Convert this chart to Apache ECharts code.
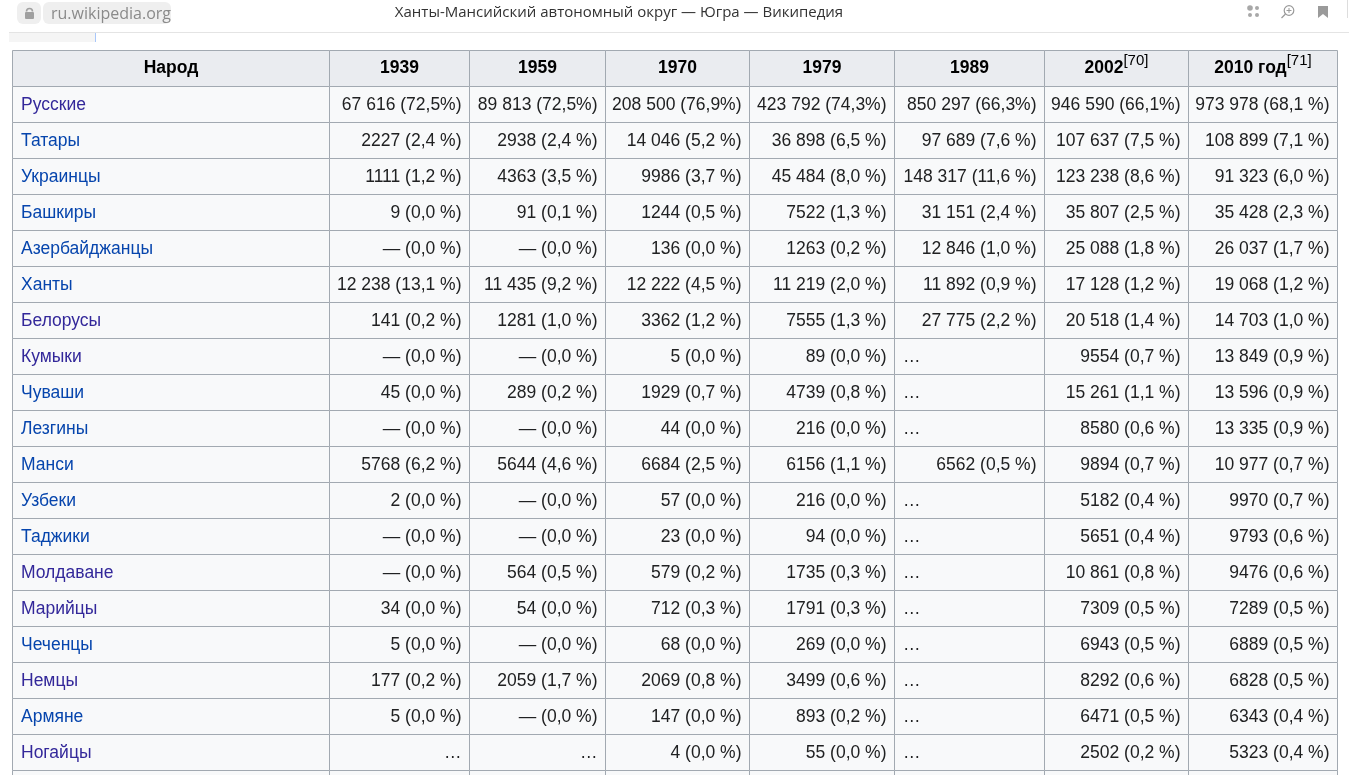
<!DOCTYPE html>
<html>
<head>
<meta charset="utf-8">
<title>Ханты-Мансийский автономный округ — Югра — Википедия</title>
<script src="https://cdn.jsdelivr.net/npm/echarts@6/dist/echarts.min.js"></script>
<style>
    html, body { margin: 0; padding: 0; background: #fff; }
    #peoples { width: 1349px; height: 775px; }
</style>
</head>
<body>
<div id="peoples"></div>
<script>
// национальный состав по переписям
const years = ['1939', '1959', '1970', '1979', '1989', '2002', '2010 год'];
const refs = ['', '', '', '', '', '[70]', '[71]'];
const peoples = ['Русские', 'Татары', 'Украинцы', 'Башкиры', 'Азербайджанцы', 'Ханты', 'Белорусы',
    'Кумыки', 'Чуваши', 'Лезгины', 'Манси', 'Узбеки', 'Таджики', 'Молдаване', 'Марийцы',
    'Чеченцы', 'Немцы', 'Армяне', 'Ногайцы'];

// 0 = «—», null = «…»
const pop1939 = [67616, 2227, 1111, 9, 0, 12238, 141, 0, 45, 0, 5768, 2, 0, 0, 34, 5, 177, 5, null];
const pop1959 = [89813, 2938, 4363, 91, 0, 11435, 1281, 0, 289, 0, 5644, 0, 0, 564, 54, 0, 2059, 0, null];
const pop1970 = [208500, 14046, 9986, 1244, 136, 12222, 3362, 5, 1929, 44, 6684, 57, 23, 579, 712, 68, 2069, 147, 4];
const pop1979 = [423792, 36898, 45484, 7522, 1263, 11219, 7555, 89, 4739, 216, 6156, 216, 94, 1735, 1791, 269, 3499, 893, 55];
const pop1989 = [850297, 97689, 148317, 31151, 12846, 11892, 27775, null, null, null, 6562, null, null, null, null, null, null, null, null];
const pop2002 = [946590, 107637, 123238, 35807, 25088, 17128, 20518, 9554, 15261, 8580, 9894, 5182, 5651, 10861, 7309, 6943, 8292, 6471, 2502];
const pop2010 = [973978, 108899, 91323, 35428, 26037, 19068, 14703, 13849, 13596, 13335, 10977, 9970, 9793, 9476, 7289, 6889, 6828, 6343, 5323];

const share1939 = [72.5, 2.4, 1.2, 0.0, 0.0, 13.1, 0.2, 0.0, 0.0, 0.0, 6.2, 0.0, 0.0, 0.0, 0.0, 0.0, 0.2, 0.0, null];
const share1959 = [72.5, 2.4, 3.5, 0.1, 0.0, 9.2, 1.0, 0.0, 0.2, 0.0, 4.6, 0.0, 0.0, 0.5, 0.0, 0.0, 1.7, 0.0, null];
const share1970 = [76.9, 5.2, 3.7, 0.5, 0.0, 4.5, 1.2, 0.0, 0.7, 0.0, 2.5, 0.0, 0.0, 0.2, 0.3, 0.0, 0.8, 0.0, 0.0];
const share1979 = [74.3, 6.5, 8.0, 1.3, 0.2, 2.0, 1.3, 0.0, 0.8, 0.0, 1.1, 0.0, 0.0, 0.3, 0.3, 0.0, 0.6, 0.2, 0.0];
const share1989 = [66.3, 7.6, 11.6, 2.4, 1.0, 0.9, 2.2, null, null, null, 0.5, null, null, null, null, null, null, null, null];
const share2002 = [66.1, 7.5, 8.6, 2.5, 1.8, 1.2, 1.4, 0.7, 1.1, 0.6, 0.7, 0.4, 0.4, 0.8, 0.5, 0.5, 0.6, 0.5, 0.2];
const share2010 = [68.1, 7.1, 6.0, 2.3, 1.7, 1.2, 1.0, 0.9, 0.9, 0.9, 0.7, 0.7, 0.6, 0.6, 0.5, 0.5, 0.5, 0.4, 0.4];

const counts = [pop1939, pop1959, pop1970, pop1979, pop1989, pop2002, pop2010];
const shares = [share1939, share1959, share1970, share1979, share1989, share2002, share2010];

// оформление
const colEdges = [0, 317.5, 457.5, 593, 737.5, 882.5, 1032, 1176.5, 1325];
const visited = ['Русские', 'Белорусы', 'Кумыки', 'Молдаване', 'Марийцы', 'Немцы', 'Ногайцы'];
const tightPct = { '0:0': 1, '0:1': 1, '0:2': 1, '0:3': 1, '0:4': 1, '0:5': 1 };
const FONT = '"Liberation Sans", Arial, sans-serif';
const ROW_H = 36;

function fmtCount(n) {
    if (n === 0) return '—';
    const s = String(n);
    if (n < 10000) return s;
    return s.replace(/\B(?=(\d{3})+(?!\d))/g, '\u00a0');
}

function fmtCell(row, col) {
    const n = counts[col][row];
    if (n === null) return null;
    const p = shares[col][row].toFixed(1).replace('.', ',');
    const pct = tightPct[row + ':' + col] ? p + '%' : p + '\u00a0%';
    return fmtCount(n) + ' (' + pct + ')';
}

const rowLabels = ['Народ'].concat(peoples);
const cells = [];
const cellData = [];
for (let r = 0; r < rowLabels.length; r++) {
    for (let c = 0; c < colEdges.length - 1; c++) {
        let cell = { text: '', align: 'right', fill: '#f8f9fa', color: '#202122' };
        if (r === 0) {
            cell.fill = '#eaecf0';
            cell.align = 'center';
            cell.header = true;
            cell.text = c === 0 ? 'Народ' : years[c - 1];
            cell.ref = c === 0 ? '' : refs[c - 1];
        } else if (c === 0) {
            cell.text = peoples[r - 1];
            cell.align = 'left';
            cell.color = visited.indexOf(peoples[r - 1]) >= 0 ? '#33289a' : '#0645ad';
        } else {
            const t = fmtCell(r - 1, c - 1);
            if (t === null) {
                cell.text = '…';
                cell.align = c === 5 ? 'left' : 'right';
            } else {
                cell.text = t;
            }
        }
        cell.last = r === rowLabels.length - 1;
        cells.push(cell);
        cellData.push([colEdges[c], r, c]);
    }
}

function renderCell(params, api) {
    const c = api.value(2);
    const r = api.value(1);
    const left = api.coord([colEdges[c], r]);
    const right = api.coord([colEdges[c + 1], r]);
    const h = api.size([0, 1])[1];
    const x0 = Math.floor(left[0]) + 0.5;
    const x1 = Math.floor(right[0]) + 0.5;
    const y0 = Math.round(left[1] - h / 2) + 0.5;
    const cy = y0 + h / 2;
    const cell = cells[params.dataIndex];

    const children = [{
        type: 'rect',
        shape: { x: x0, y: y0, width: x1 - x0, height: h },
        style: { fill: cell.fill, stroke: '#a2a9b1', lineWidth: 1 }
    }];
    // следующая строка таблицы, обрезанная краем окна
    if (cell.last) {
        children.push({
            type: 'rect',
            shape: { x: x0, y: y0 + h, width: x1 - x0, height: h },
            style: { fill: '#f8f9fa', stroke: '#a2a9b1', lineWidth: 1 }
        });
    }

    let tx = x1 - 8;
    if (cell.align === 'left') tx = x0 + 8.5;
    if (cell.align === 'center') tx = (x0 + x1) / 2;

    if (cell.header) {
        children.push({
            type: 'text',
            style: {
                text: '{h|' + cell.text + '}' + (cell.ref ? '{s|' + cell.ref + '}' : ''),
                x: tx, y: cy, align: 'center', verticalAlign: 'middle',
                rich: {
                    h: { fontFamily: FONT, fontSize: 17.5, fontWeight: 'bold', color: '#202122', lineHeight: 30 },
                    s: { fontFamily: FONT, fontSize: 15, color: '#0645ad', lineHeight: 16, verticalAlign: 'top' }
                }
            }
        });
    } else if (cell.text) {
        children.push({
            type: 'text',
            style: {
                text: cell.text, x: tx, y: cy + 0.5,
                align: cell.align, verticalAlign: 'middle',
                font: '17.5px ' + FONT, fill: cell.color
            }
        });
    }
    return { type: 'group', children: children };
}

// рамка браузера
const chrome = [
    { type: 'rect', shape: { x: 17, y: 2, width: 24, height: 22, r: 6 }, style: { fill: '#efefef' } },
    { type: 'rect', shape: { x: 25, y: 12, width: 9, height: 7, r: 1 }, style: { fill: '#a0a0a0' } },
    { type: 'arc', shape: { cx: 29.5, cy: 11.5, r: 3, startAngle: Math.PI, endAngle: 0 }, style: { stroke: '#a0a0a0', lineWidth: 1.6, fill: null } },
    { type: 'rect', shape: { x: 43, y: 2, width: 128, height: 22, r: 6 }, style: { fill: '#efefef' } },
    { type: 'text', style: { text: 'ru.wikipedia.org', x: 51, y: 14, verticalAlign: 'middle', font: '16px "Open Sans", "Noto Sans", sans-serif', fill: '#8a8a8a' } },
    { type: 'text', style: { text: 'Ханты-Мансийский автономный округ — Югра — Википедия', x: 619, y: 13, align: 'center', verticalAlign: 'middle', font: '15px "Open Sans", "Noto Sans", sans-serif', fill: '#333' } },
    { type: 'line', shape: { x1: 9, y1: 32.5, x2: 1349, y2: 32.5 }, style: { stroke: '#e4e4e4', lineWidth: 1 } },
    { type: 'rect', shape: { x: 9, y: 33, width: 86, height: 9 }, style: { fill: '#f5f5f5' } },
    { type: 'line', shape: { x1: 95.5, y1: 33, x2: 95.5, y2: 42 }, style: { stroke: '#a8c7fa', lineWidth: 1 } },
    { type: 'line', shape: { x1: 1347.5, y1: 0, x2: 1347.5, y2: 18 }, style: { stroke: '#dddddd', lineWidth: 1 } },
    { type: 'circle', shape: { cx: 1250, cy: 8, r: 2.8 }, style: { fill: '#a8a8a8' } },
    { type: 'circle', shape: { cx: 1257, cy: 8, r: 2 }, style: { fill: '#a8a8a8' } },
    { type: 'circle', shape: { cx: 1250, cy: 15, r: 2 }, style: { fill: '#a8a8a8' } },
    { type: 'circle', shape: { cx: 1257, cy: 15, r: 2 }, style: { fill: '#a8a8a8' } },
    { type: 'circle', shape: { cx: 1289, cy: 10.5, r: 4.8 }, style: { stroke: '#9a9a9a', lineWidth: 1.2, fill: null } },
    { type: 'line', shape: { x1: 1285.5, y1: 14, x2: 1281.5, y2: 18 }, style: { stroke: '#9a9a9a', lineWidth: 1.2 } },
    { type: 'line', shape: { x1: 1286.5, y1: 10.5, x2: 1291.5, y2: 10.5 }, style: { stroke: '#9a9a9a', lineWidth: 1 } },
    { type: 'line', shape: { x1: 1289, y1: 8, x2: 1289, y2: 13 }, style: { stroke: '#9a9a9a', lineWidth: 1 } },
    { type: 'polygon', shape: { points: [[1318, 6], [1328, 6], [1328, 18], [1323, 14], [1318, 18]] }, style: { fill: '#9a9a9a' } }
];

const option = {
    animation: false,
    backgroundColor: '#fff',
    graphic: chrome,
    grid: { left: 12, top: 50, width: colEdges[colEdges.length - 1], height: ROW_H * rowLabels.length },
    xAxis: { type: 'value', min: 0, max: colEdges[colEdges.length - 1], show: false },
    yAxis: { type: 'category', data: rowLabels, inverse: true, show: false },
    series: [{
        type: 'custom',
        silent: true,
        clip: false,
        renderItem: renderCell,
        encode: { x: 0, y: 1 },
        data: cellData
    }]
};

const chart = echarts.init(document.getElementById('peoples'));
chart.setOption(option);
</script>
</body>
</html>
